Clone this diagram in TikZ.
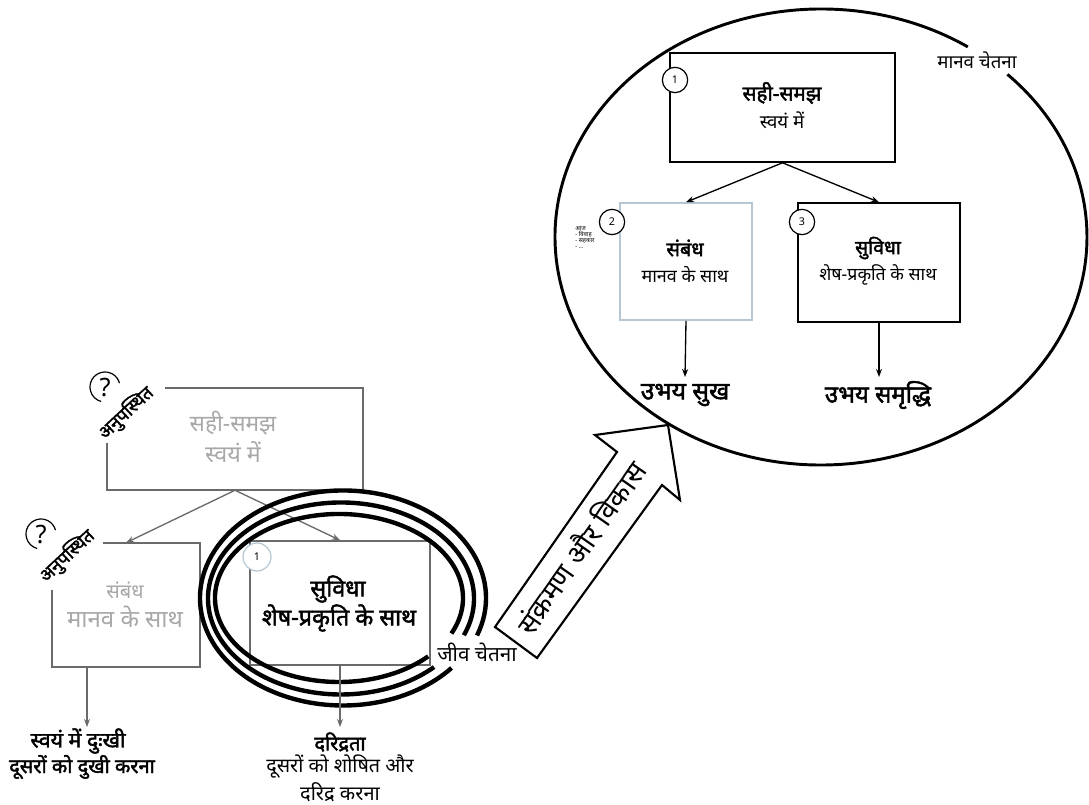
\documentclass[tikz,border=0pt]{standalone}
\usepackage{fontspec}
\setmainfont[Script=Devanagari,BoldFont={Noto Sans},BoldFeatures={FakeBold=2}]{Noto Sans}
\usetikzlibrary{arrows.meta,calc}
\definecolor{greytxt}{HTML}{A8A8A8}
\definecolor{greyline}{HTML}{6A6A6A}
\definecolor{bluebox}{HTML}{B5C7D3}
\newcommand{\fs}[1]{\fontsize{#1}{#1}\selectfont}
\begin{document}
\begin{tikzpicture}[x=0.75pt,y=-0.75pt,
  box/.style={draw=black,line width=1.2pt,inner sep=0pt,fill=white},
  gbox/.style={draw=none,inner sep=0pt},
  num/.style={circle,draw=black,line width=0.9pt,fill=white,minimum size=19pt,inner sep=0pt,font=\fs{8}},
  arr/.style={line width=1pt,-{Stealth[length=6pt,width=4.5pt]}},
  garr/.style={draw=greyline,line width=1pt,-{Stealth[length=6pt,width=4.5pt]}},
  txt/.style={inner sep=0pt,align=center},
  ring/.style={line width=3.3pt,draw=black},
]
\useasboundingbox (0,0) rectangle (1089,805);
\fill[white] (0,0) rectangle (1089,805);

% ---------------- right: human consciousness ----------------
\coordinate (E) at (821,237);
\draw[line width=2.2pt] ([shift={(-56.5:266 and 228)}]E) arc[start angle=-56.5,end angle=-405.5,x radius=266,y radius=228];
\node[txt,font=\fs{14}] (mc) at (977,60) {मानव चेतना};

\node[box,minimum width=168.75pt,minimum height=81.75pt] (b1) at (782.5,107.5) {};
\node[box,draw=bluebox,minimum width=99pt,minimum height=87.75pt] (b2) at (686,261.5) {};
\node[box,minimum width=121.5pt,minimum height=89.25pt] (b3) at (879,262.5) {};
\node[num] (n1) at (675,80) {1};
\node[num] (n2) at (612,222) {2};
\node[num] (n3) at (802,222) {3};

\node[txt,font=\bfseries\fs{15.5}] (t1a) at (782,93) {सही-समझ};
\node[txt,font=\fs{14}] (t1b) at (782,120) {स्वयं में};
\node[txt,font=\bfseries\fs{15}] (t2a) at (685,248) {संबंध};
\node[txt,font=\fs{13.5}] (t2b) at (685,275) {मानव के साथ};
\node[txt,font=\bfseries\fs{14.5}] (t3a) at (878,248) {सुविधा};
\node[txt,font=\fs{13.3}] (t3b) at (878,275) {शेष-प्रकृति के साथ};
\node[txt,font=\fs{4.5},align=left,anchor=north west] (side) at (575,226) {आज\\- विवाह\\- सहकार\\- ...};

\node[txt,font=\bfseries\fs{18.5}] (u1) at (685,395) {उभय सुख};
\node[txt,font=\bfseries\fs{18}] (u2) at (878,395) {उभय समृद्धि};

\draw[arr] (b1.south) -- (b2.north);
\draw[arr] (b1.south) -- (b3.north);
\draw[arr] (b2.south) -- (685,377);
\draw[arr] (b3.south) -- (879,377);

% ---------------- block arrow ----------------
\draw[line width=1.6pt,fill=white,line join=miter]
  (495,627) -- (617,452) -- (595,435) -- (668,425) -- (680,500) -- (662,485) -- (537,658) -- cycle;
\node[txt,font=\fs{21}] (sv) at (580,547) [rotate=55] {संक्रमण और विकास};

% ---------------- left: animal consciousness ----------------
\node[gbox,minimum width=192pt,minimum height=76.5pt] (L1) at (235,439) {};
\draw[greyline,line width=1.2pt] ([xshift=43.5pt]L1.north west) -- (L1.north east) -- (L1.south east) -- (L1.south west) -- ([yshift=35.25pt]L1.south west);
\node[gbox,minimum width=111pt,minimum height=93pt] (L2) at (126,605) {};
\draw[greyline,line width=1.2pt] ([xshift=38.25pt]L2.north west) -- (L2.north east) -- (L2.south east) -- (L2.south west) -- ([yshift=57.75pt]L2.south west);
\node[box,draw=greyline,fill=none,minimum width=135pt,minimum height=93pt] (L3) at (340,603) {};

\node[txt,text=greytxt,font=\fs{17}] (l1a) at (233,423) {सही-समझ};
\node[txt,text=greytxt,font=\fs{17.5}] (l1b) at (233,452) {स्वयं में};
\node[txt,text=greytxt,font=\fs{15}] (l2a) at (125,590) {संबंध};
\node[txt,text=greytxt,font=\fs{18}] (l2b) at (125,617) {मानव के साथ};
\node[txt,font=\bfseries\fs{17.5}] (l3a) at (338,589) {सुविधा};
\node[txt,font=\bfseries\fs{17.5}] (l3b) at (339,618) {शेष-प्रकृति के साथ};
\node[num,draw=bluebox,minimum size=21pt] (ln1) at (257,557) {1};

\draw[garr] (L1.south) -- (L2.north);
\draw[garr] (L1.south) -- (L3.north);

% question marks and labels
\draw[black,line width=0.9pt] ([shift={(-15:15)}]105,387) arc[start angle=-15,end angle=-255,radius=15];
\node[txt,font=\fs{19}] (q1) at (105,388) {?};
\node[txt,font=\bfseries\fs{13.5}] (ab1) at (126,413) [rotate=43] {अनुपस्थित};
\draw[black,line width=0.9pt] ([shift={(-15:15)}]41,534) arc[start angle=-15,end angle=-255,radius=15];
\node[txt,font=\fs{19}] (q2) at (41,535) {?};
\node[txt,font=\bfseries\fs{13.5}] (ab2) at (67,556) [rotate=43] {अनुपस्थित};

% triple rings
\draw[ring] ([shift={(25:124 and 84)}]339,598) arc[start angle=25,end angle=-316,x radius=124,y radius=84];
\draw[ring] ([shift={(22.5:133 and 96)}]341,598.5) arc[start angle=22.5,end angle=-314.4,x radius=133,y radius=96];
\draw[ring] ([shift={(20.4:143 and 107.5)}]343,598) arc[start angle=20.4,end angle=-319.4,x radius=143,y radius=107.5];
\node[txt,font=\fs{15.5}] (jc) at (477,652) {जीव चेतना};

% outcomes
\coordinate (a2) at (87,727);
\draw[garr] (L2.south -| a2) -- (a2);
\coordinate (a3) at (340,727);
\draw[garr] (L3.south) -- (a3);
\node[txt,font=\bfseries\fs{16}] (d1a) at (78,741) {स्वयं में दुःखी};
\node[txt,font=\bfseries\fs{15}] (d1b) at (82,767) {दूसरों को दुखी करना};
\node[txt,font=\bfseries\fs{15}] (d2a) at (340,742) {दरिद्रता};
\node[txt,font=\fs{14.8}] (d2b) at (340,767) {दूसरों को शोषित और};
\node[txt,font=\fs{15}] (d2c) at (340,792) {दरिद्र करना};
\end{tikzpicture}
\end{document}
